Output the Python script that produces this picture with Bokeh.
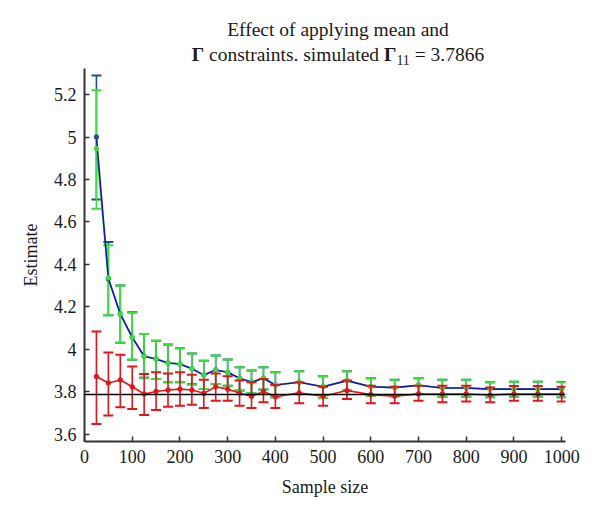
from bokeh.plotting import figure
from bokeh.models import Range1d, FixedTicker, Span, ColumnDataSource, Div
from bokeh.layouts import column
from bokeh.embed import file_html
from bokeh.resources import INLINE

# ---- data ----
sample_size = [25, 50, 75, 100, 125, 150, 175, 200, 225, 250, 275, 300, 325, 350, 375,
               400, 450, 500, 550, 600, 650, 700, 750, 800, 850, 900, 950, 1000]

blue_mean = [5.0, 4.332, 4.166, 4.056, 3.967, 3.954, 3.935, 3.93, 3.908, 3.878, 3.902, 3.891,
             3.863, 3.844, 3.863, 3.831, 3.844, 3.823, 3.852, 3.823, 3.819, 3.83, 3.817,
             3.817, 3.812, 3.812, 3.812, 3.812]
blue_upper = [5.29, 4.505, 4.30, 4.174, 4.072, 4.04, 4.022, 4.004, 3.98, 3.946, 3.97, 3.951,
              3.915, 3.90, 3.915, 3.891, 3.896, 3.872, 3.896, 3.863, 3.856, 3.863, 3.856,
              3.856, 3.844, 3.847, 3.847, 3.846]
blue_lower = [4.706, 4.16, 4.03, 3.95, 3.865, 3.86, 3.844, 3.844, 3.835, 3.812, 3.836, 3.828,
              3.805, 3.792, 3.81, 3.773, 3.789, 3.77, 3.805, 3.78, 3.778, 3.789, 3.776,
              3.776, 3.773, 3.776, 3.776, 3.773]

green_mean = [4.945, 4.337, 4.166, 4.056, 3.967, 3.954, 3.935, 3.93, 3.908, 3.878, 3.902, 3.891,
              3.863, 3.844, 3.863, 3.831, 3.844, 3.823, 3.852, 3.823, 3.819, 3.83, 3.817,
              3.817, 3.812, 3.812, 3.812, 3.812]
green_upper = [5.22, 4.49, 4.30, 4.172, 4.072, 4.04, 4.02, 4.004, 3.98, 3.946, 3.97, 3.951,
               3.915, 3.90, 3.915, 3.891, 3.896, 3.872, 3.896, 3.863, 3.856, 3.863, 3.856,
               3.856, 3.844, 3.847, 3.847, 3.844]
green_lower = [4.662, 4.16, 4.03, 3.95, 3.867, 3.86, 3.844, 3.844, 3.833, 3.812, 3.836, 3.828,
               3.805, 3.792, 3.81, 3.773, 3.789, 3.77, 3.805, 3.78, 3.778, 3.789, 3.776,
               3.776, 3.773, 3.776, 3.776, 3.773]

red_mean = [3.871, 3.841, 3.855, 3.823, 3.789, 3.801, 3.808, 3.812, 3.808, 3.792, 3.823, 3.812,
            3.792, 3.778, 3.801, 3.776, 3.794, 3.778, 3.805, 3.786, 3.778, 3.789, 3.789,
            3.789, 3.784, 3.789, 3.789, 3.789]
red_upper = [4.083, 3.985, 3.974, 3.919, 3.883, 3.891, 3.886, 3.891, 3.88, 3.856, 3.886, 3.872,
             3.852, 3.844, 3.86, 3.831, 3.844, 3.823, 3.852, 3.828, 3.823, 3.828, 3.828,
             3.828, 3.82, 3.826, 3.826, 3.823]
red_lower = [3.647, 3.687, 3.726, 3.718, 3.69, 3.713, 3.729, 3.734, 3.738, 3.723, 3.757, 3.757,
             3.734, 3.723, 3.75, 3.723, 3.745, 3.734, 3.765, 3.745, 3.745, 3.757, 3.75,
             3.753, 3.75, 3.757, 3.757, 3.753]

simulated_value = 3.7866

x_ticks = [0, 100, 200, 300, 400, 500, 600, 700, 800, 900, 1000]
y_ticks = [3.6, 3.8, 4.0, 4.2, 4.4, 4.6, 4.8, 5.0, 5.2]
y_tick_labels = ["3.6", "3.8", "4", "4.2", "4.4", "4.6", "4.8", "5", "5.2"]

title_line1 = "Effect of applying mean and"
title_gamma = "\u0393"
title_mid = " constraints. simulated "
title_sub = "11"
title_end = " = 3.7866"

# ---- style ----
FONT = "Liberation Serif"
BLUE = "#1414b8"
BLUE_BAR = "#1f4f8c"
GREEN = "#3fdc3f"
RED = "#e3141c"
AXIS = "#333333"
TEXT = "#1a1a1a"

X0, X1 = 0, 1008
Y0, Y1 = 3.565, 5.323
TITLE_H = 68

line2_html = (f"<b>{title_gamma}</b>{title_mid}<b>{title_gamma}</b>"
              f"<span style='font-size:14px;position:relative;top:4px;'>{title_sub}</span>"
              f"{title_end}")

title = Div(
    text=(f"<div style=\"font-family:'{FONT}';font-size:19.5px;line-height:25px;"
          f"color:{TEXT};text-align:center;margin-left:92px;padding-top:17px;"
          f"width:492px;white-space:nowrap;\">"
          f"{title_line1}<br>{line2_html}</div>"),
    width=584, height=TITLE_H, margin=(0, 0, 0, 0))

p = figure(width=584, height=504 - TITLE_H, output_backend="svg", toolbar_location=None,
           x_range=Range1d(X0, X1), y_range=Range1d(Y0, Y1),
           min_border_left=84, min_border_right=19, min_border_top=0,
           min_border_bottom=63, margin=(0, 0, 0, 0))
p.outline_line_color = None
p.grid.visible = False
p.background_fill_color = "white"

for ax in (p.xaxis[0], p.yaxis[0]):
    ax.axis_line_color = AXIS
    ax.axis_line_width = 2
    ax.major_tick_line_color = AXIS
    ax.major_tick_line_width = 1.5
    ax.major_tick_in = 5
    ax.major_tick_out = 0
    ax.minor_tick_line_color = None
    ax.major_label_text_font = FONT
    ax.major_label_text_font_size = "18px"
    ax.major_label_text_color = TEXT
    ax.axis_label_text_font = FONT
    ax.axis_label_text_font_size = "18px"
    ax.axis_label_text_font_style = "normal"
    ax.axis_label_text_color = TEXT

p.xaxis.ticker = FixedTicker(ticks=x_ticks)
p.yaxis.ticker = FixedTicker(ticks=y_ticks)
p.yaxis.major_label_overrides = {t: l for t, l in zip(y_ticks, y_tick_labels)}
p.xaxis.axis_label = "Sample size"
p.yaxis.axis_label = "Estimate"
p.xaxis.major_label_standoff = 8
p.yaxis.major_label_standoff = 8
p.xaxis.axis_label_standoff = 11
p.yaxis.axis_label_standoff = 10


def error_bars(upper, lower, color, width=1.6):
    src = ColumnDataSource(dict(x=sample_size, up=upper, lo=lower))
    p.segment(x0="x", y0="lo", x1="x", y1="up", source=src, line_color=color, line_width=width)
    p.scatter(x="x", y="up", source=src, marker="dash", size=10, line_color=color,
              line_width=width + 0.4)
    p.scatter(x="x", y="lo", source=src, marker="dash", size=10, line_color=color,
              line_width=width + 0.4)


error_bars(blue_upper, blue_lower, BLUE_BAR)
error_bars(green_upper, green_lower, GREEN)
p.line(sample_size, green_mean, line_color=GREEN, line_width=1.6)
p.line(sample_size, blue_mean, line_color=BLUE, line_width=1.6)
p.scatter(sample_size, blue_mean, size=4.5, fill_color=BLUE_BAR, line_color=BLUE_BAR)
p.scatter(sample_size, green_mean, size=4.5, fill_color=GREEN, line_color=GREEN)

p.add_layout(Span(location=simulated_value, dimension="width", line_color="black",
                  line_width=1.6))

error_bars(red_upper, red_lower, RED)
p.line(sample_size, red_mean, line_color=RED, line_width=1.6)
p.scatter(sample_size, red_mean, size=4.5, fill_color=RED, line_color=RED)

layout = column(title, p, spacing=0, margin=(0, 0, 0, 0))

open("out.html", "w").write(file_html(layout, INLINE))
